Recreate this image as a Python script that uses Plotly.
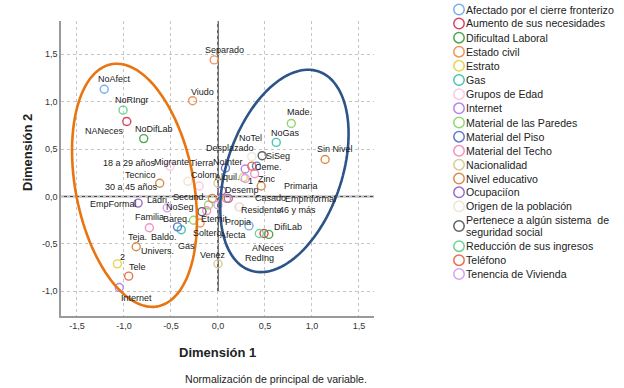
import numpy as np
import plotly.graph_objects as go

# ---------------- data ----------------
categories = [
    "Afectado por el cierre fronterizo", "Aumento de sus necesidades", "Dificultad Laboral",
    "Estado civil", "Estrato", "Gas", "Grupos de Edad", "Internet", "Material de las Paredes",
    "Material del Piso", "Material del Techo", "Nacionalidad", "Nivel educativo", "Ocupaciíon",
    "Origen de la población", "Pertenece a algún sistema  de\nseguridad social",
    "Reducción de sus ingresos", "Teléfono", "Tenencia de Vivienda",
]

point_labels = [
    "NoAfect", "Afecta", "NANeces", "ANeces", "NoDifLab", "DifiLab",
    "Separado", "Viudo", "Soltero", "Casado", "1", "2", "NoGas", "Gas",
    "18 a 29 años", "30 a 45 años", "46 y más", "NoInter", "Internet",
    "Made.", "Ladri.", "Bareq.", "Tierra", "Ceme.", "Baldo.", "Zinc", "Eternit", "Teja.",
    "Colom", "Venez", "Sin Nivel", "Primaria", "Secund.", "Tecnico", "Univers.",
    "EmpFormal", "EmpInformal", "Desemp", "Migrante", "Desplazado", "Residente",
    "SiSeg", "NoSeg", "NoRIngr", "RedIng", "NoTel", "Tele", "Propia", "Alquil.", "Familia",
]
point_group = [
    0, 0, 1, 1, 2, 2,
    3, 3, 3, 3, 4, 4, 5, 5,
    6, 6, 6, 7, 7,
    8, 8, 8, 9, 9, 9, 10, 10, 10,
    11, 11, 12, 12, 12, 12, 12,
    13, 13, 13, 14, 14, 14,
    15, 15, 16, 16, 17, 17, 18, 18, 18,
]
dim1 = [
    -1.21, 0.33, -0.97, 0.49, -0.79, 0.54,
    -0.04, -0.27, -0.19, 0.09, 0.27, -1.07, 0.62, -0.39,
    -0.51, -0.20, 0.23, 0.29, -1.05,
    0.78, -0.10, -0.26, 0.08, 0.41, -0.43, 0.39, -0.12, -0.73,
    0.00, 0.00, 1.14, 0.46, -0.06, -0.62, -0.87,
    -0.85, 0.11, 0.04, -0.32, 0.36, 0.22,
    0.47, -0.17, -1.01, 0.44, 0.36, -0.95, 0.00, 0.29, -0.54,
]
dim2 = [
    1.13, -0.31, 0.79, -0.39, 0.61, -0.40,
    1.44, 1.01, -0.28, -0.02, 0.20, -0.71, 0.57, -0.35,
    0.32, 0.11, -0.11, 0.29, -0.96,
    0.77, -0.09, -0.25, 0.30, 0.32, -0.32, 0.24, -0.15, -0.33,
    0.14, -0.71, 0.39, 0.11, -0.02, 0.14, -0.53,
    -0.07, -0.02, 0.06, 0.16, 0.42, -0.11,
    0.43, -0.16, 0.91, -0.39, 0.32, -0.84, -0.09, 0.19, -0.12,
]

x_ticks = [-1.5, -1.0, -0.5, 0.0, 0.5, 1.0, 1.5]
x_tick_labels = ["-1,5", "-1,0", "-0,5", "0,0", "0,5", "1,0", "1,5"]
y_ticks = [-1.0, -0.5, 0.0, 0.5, 1.0, 1.5]
y_tick_labels = ["-1,0", "-0,5", "0,0", "0,5", "1,0", "1,5"]

x_title = "Dimensión 1"
y_title = "Dimensión 2"
footnote = "Normalización de principal de variable."

# ---------------- style ----------------
colors = [
    "#7aaee8", "#e0405e", "#4ca64c", "#f5925a", "#e8d44d", "#45c4b4", "#ffc8de",
    "#b784f0", "#90d870", "#5f78d0", "#f590c0", "#d8cc98", "#d88c4c", "#9c6cc8",
    "#eee6d8", "#606060", "#6cd494", "#e8704c", "#d8a0f0",
]
# label centre offset from its point, in pixels (dx right, dy down)
label_offsets = {
    "NoAfect": (10, -10), "Afecta": (-16, 9), "NANeces": (-22, 9), "ANeces": (4, 15),
    "NoDifLab": (10, -10), "DifiLab": (19, -7), "Separado": (10, -10), "Viudo": (10, -9),
    "Soltero": (7, 10), "Casado": (44, 0), "1": (7, 3), "2": (5, -7), "NoGas": (9, -9),
    "Gas": (5, 16), "18 a 29 años": (-41, -3), "30 a 45 años": (-68, 1), "46 y más": (58, 3),
    "NoInter": (-17, -7), "Internet": (17, 10), "Made.": (8, -11), "Ladri.": (-50, -5),
    "Bareq.": (-17, -1), "Tierra": (-24, -5), "Ceme.": (12, 1), "Baldo.": (-14, 10),
    "Zinc": (12, 5), "Eternit": (8, 8), "Teja.": (-12, 9), "Colom": (-14, -8),
    "Venez": (-5, -9), "Sin Nivel": (10, -10), "Primaria": (40, 0), "Secund.": (-23, -1),
    "Tecnico": (-19, -8), "Univers.": (21, 4), "EmpFormal": (-25, 1), "EmpInformal": (82, 1),
    "Desemp": (20, -1), "Migrante": (-16, -19), "Desplazado": (-22, -9), "Residente": (23, 3),
    "SiSeg": (16, 0), "NoSeg": (-22, -5), "NoRIngr": (9, -10), "RedIng": (0, 25),
    "NoTel": (-1, -28), "Tele": (9, -9), "Propia": (20, 17), "Alquil.": (-18, -1),
    "Familia": (-18, 9),
}

FONT = "Liberation Sans, Arial, sans-serif"
W, H = 624, 388
ML, MR, MT, MB = 61, 250, 21, 72
PW, PH = W - ML - MR, H - MT - MB
XR = [-1.67, 1.66]
YR = [-1.26, 1.85]


def pxx(px):
    return (px - ML) / PW


def pxy(py):
    return (H - MB - py) / PH


fig = go.Figure()

# ellipses (cluster outlines)
ellipses = [
    dict(cx=-0.888, cy=0.118, a=1.30, b=0.628, tilt=-11.0, color="#e8750f"),
    dict(cx=0.707, cy=0.269, a=1.11, b=0.61, tilt=19.3, color="#2c5489"),
]
t = np.linspace(0, 2 * np.pi, 120)
shapes = []
for e in ellipses:
    ph = np.deg2rad(e["tilt"])
    ex = e["cx"] + e["a"] * np.cos(t) * np.sin(ph) + e["b"] * np.sin(t) * np.cos(ph)
    ey = e["cy"] + e["a"] * np.cos(t) * np.cos(ph) - e["b"] * np.sin(t) * np.sin(ph)
    path = "M " + " L ".join(f"{a:.4f},{b:.4f}" for a, b in zip(ex, ey)) + " Z"
    shapes.append(dict(type="path", path=path, xref="x", yref="y",
                       line=dict(color=e["color"], width=2.6), layer="above"))

# reference lines through origin
shapes.append(dict(type="line", xref="x", yref="y", x0=0, x1=0, y0=-1.0, y1=YR[1],
                   line=dict(color="#4a4a4a", width=1.6), layer="below"))
shapes.append(dict(type="line", xref="x", yref="y", x0=XR[0], x1=XR[1], y0=0, y1=0,
                   line=dict(color="#4a4a4a", width=1.6), layer="below"))

# points
for gi, cat in enumerate(categories):
    idx = [i for i, g in enumerate(point_group) if g == gi]
    if not idx:
        continue
    fig.add_trace(go.Scatter(
        x=[dim1[i] for i in idx], y=[dim2[i] for i in idx], mode="markers",
        marker=dict(symbol="circle-open", size=8, color=colors[gi], line=dict(width=1.4)),
        name=cat.replace("\n", " "), showlegend=False, hoverinfo="text",
        text=[point_labels[i] for i in idx],
    ))

annotations = []
for i, lab in enumerate(point_labels):
    dx, dy = label_offsets.get(lab, (10, -10))
    annotations.append(dict(x=dim1[i], y=dim2[i], xref="x", yref="y", text=lab,
                            showarrow=False, xshift=dx, yshift=-dy,
                            xanchor="center", yanchor="middle",
                            font=dict(family=FONT, size=9, color="#1a1a1a")))

# custom legend
leg_y = [9.5, 23.5, 37.7, 51.7, 65.8, 80, 94.2, 108.3, 122.5, 136.7, 150.8, 164.7,
         178.5, 192.3, 206.3, 226, 246.2, 260.2, 274]
for gi, cat in enumerate(categories):
    cy = leg_y[gi]
    shapes.append(dict(type="circle", xref="paper", yref="paper",
                       xsizemode="pixel", ysizemode="pixel",
                       xanchor=pxx(459), yanchor=pxy(cy),
                       x0=-5.2, x1=5.2, y0=-5.2, y1=5.2,
                       line=dict(color=colors[gi], width=1.5)))
    lines = cat.split("\n")
    for k, ln in enumerate(lines):
        ly = cy + (k - (len(lines) - 1) / 2) * 11.4
        annotations.append(dict(x=pxx(465), y=pxy(ly), xref="paper", yref="paper",
                                text=ln, showarrow=False, xanchor="left", yanchor="middle",
                                borderpad=0,
                                font=dict(family=FONT, size=10.6, color="#222222")))

# axis titles and footnote
annotations.append(dict(x=pxx(217.5), y=pxy(352), xref="paper", yref="paper", text=f"<b>{x_title}</b>",
                        showarrow=False, xanchor="center", yanchor="middle",
                        font=dict(family=FONT, size=13, color="#222222")))
annotations.append(dict(x=pxx(27.5), y=pxy(152.5), xref="paper", yref="paper", text=f"<b>{y_title}</b>",
                        showarrow=False, xanchor="center", yanchor="middle", textangle=-90,
                        font=dict(family=FONT, size=13, color="#222222")))
annotations.append(dict(x=pxx(183), y=pxy(379), xref="paper", yref="paper", text=footnote,
                        showarrow=False, xanchor="left", yanchor="middle",
                        font=dict(family=FONT, size=10.6, color="#222222")))

axis_common = dict(showgrid=True, gridcolor="#c4c4c4", griddash="dot", gridwidth=1,
                   zeroline=False, showline=True, linecolor="#9a9a9a", linewidth=1.5,
                   ticks="", tickfont=dict(family=FONT, size=9, color="#333333"))

fig.update_layout(
    width=W, height=H, autosize=False,
    margin=dict(l=ML, r=MR, t=MT, b=MB, pad=0),
    paper_bgcolor="white", plot_bgcolor="white",
    showlegend=False,
    xaxis=dict(range=XR, tickvals=x_ticks, ticktext=x_tick_labels, **axis_common),
    yaxis=dict(range=YR, tickvals=y_ticks, ticktext=y_tick_labels, **axis_common),
    shapes=shapes, annotations=annotations,
)

fig.write_html(
    "out.html",
    config={"displayModeBar": False},
    post_script="document.body.style.margin='0';document.body.style.overflow='hidden';",
)
